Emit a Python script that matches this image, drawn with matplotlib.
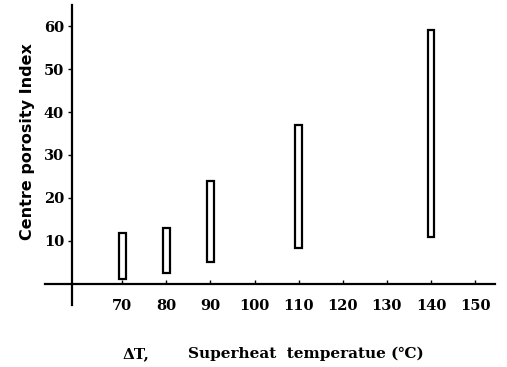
import matplotlib.pyplot as plt
import numpy as np

# superheat (deg C) and porosity index range
superheat = [70, 80, 90, 110, 140]
index_low = [1.2, 2.5, 5.0, 8.3, 11.0]
index_high = [11.8, 13.0, 24.0, 37.0, 59.0]
xticks = [70, 80, 90, 100, 110, 120, 130, 140, 150]
yticks = [10, 20, 30, 40, 50, 60]

W, H = 507, 367
fig = plt.figure(figsize=(W / 100, H / 100), dpi=100)
# axes box in pixel coordinates of the reference
left, right, top, bottom = 45, 495, 5, 305
ax = fig.add_axes([left / W, 1 - bottom / H, (right - left) / W, (bottom - top) / H])

serif = ['DejaVu Serif']
low = np.array(index_low)
high = np.array(index_high)
ax.bar(superheat, high - low, bottom=low, width=1.5, facecolor='white',
       edgecolor='black', linewidth=1.6)

ax.set_xlim(52.5, 154.5)
ax.set_ylim(-4.9, 64.9)
for s in ['top', 'right']:
    ax.spines[s].set_visible(False)
ax.spines['left'].set_position(('data', 58.7))
ax.spines['bottom'].set_position(('data', 0))
ax.spines['left'].set_linewidth(1.6)
ax.spines['bottom'].set_linewidth(1.6)

ax.set_xticks(xticks)
ax.set_yticks(yticks)
ax.tick_params(axis='x', direction='in', length=3, width=1, pad=11)
ax.tick_params(axis='y', direction='out', length=3, width=1, pad=3)
for lab in ax.get_xticklabels() + ax.get_yticklabels():
    lab.set_family(serif)
    lab.set_fontweight('bold')
    lab.set_fontsize(10.5)

fig.text(27.5 / W, 1 - 142 / H, 'Centre porosity Index', rotation=90, ha='center',
         va='center', fontsize=11.5, fontweight='bold', family=['DejaVu Sans'])
fig.text(136 / W, 1 - 354 / H, '\u0394T,', ha='center', va='center',
         fontsize=11, fontweight='bold', family=serif)
fig.text(306 / W, 1 - 354 / H, 'Superheat  temperatue (\u2103)', ha='center',
         va='center', fontsize=11, fontweight='bold', family=serif + ['DejaVu Sans'])

fig.savefig('out.png', dpi=100)
